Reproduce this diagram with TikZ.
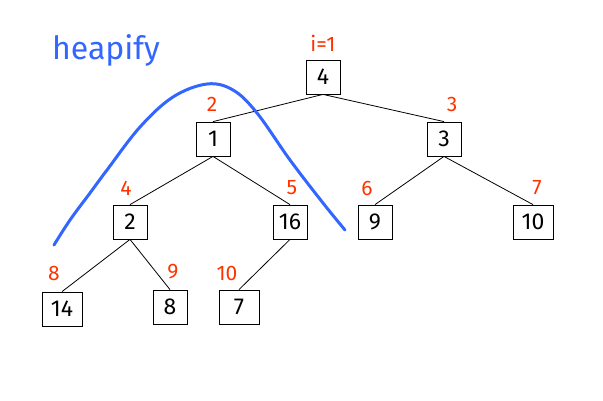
\documentclass[tikz,border=0pt]{standalone}
\usepackage{fontspec}
\setmainfont{Fira Sans}
\usepackage{tikz}
\usetikzlibrary{positioning}
\definecolor{idxred}{RGB}{255,51,0}
\definecolor{heapblue}{RGB}{51,102,255}
\tikzset{x=1pt,y=-1pt,
    key/.style={draw,thick,minimum width=34pt,minimum height=34pt,inner sep=0pt,
        font=\fontsize{23}{26}\selectfont},
    wide/.style={key,minimum width=40pt},
    index/.style={text=idxred,font=\fontsize{21}{24}\selectfont},
    link/.style={draw,line width=0.8pt},
    textnode/.style={}}

\begin{document}
\begin{tikzpicture}
\useasboundingbox (0,0) rectangle (603,400);
\node[key]  (n1)  at (323,77)  {4};
\node[key]  (n2)  at (213,139) {1};
\node[key]  (n3)  at (444,139) {3};
\node[key]  (n4)  at (130,222) {2};
\node[key]  (n5)  at (290,222) {16};
\node[key]  (n6)  at (375,222) {9};
\node[wide] (n7)  at (533,222) {10};
\node[wide] (n8)  at (62,309)  {14};
\node[key]  (n9)  at (170,307) {8};
\node[wide] (n10) at (239,307) {7};

\path[link]
	(n1.south) edge (n2.north)
	(n1.south) edge (n3.north)
	(n2.south) edge (n4.north)
	(n2.south) edge (n5.north)
	(n3.south) edge (n6.north)
	(n3.south) edge (n7.north)
	(n4.south) edge (n8.north)
	(n4.south) edge (n9.north)
	(n5.south) edge (n10.north);

% array positions
\node[index] (i1)  at (323,43)  {i=1};
\node[index] (i2)  at (212,104) {2};
\node[index] (i3)  at (452,104) {3};
\node[index] (i4)  at (126,188) {4};
\node[index] (i5)  at (292,188) {5};
\node[index] (i6)  at (367,188) {6};
\node[index] (i7)  at (537,188) {7};
\node[index] (i8)  at (54,273)  {8};
\node[index] (i9)  at (173,272) {9};
\node[index] (i10) at (227,273) {10};

\node[text=heapblue,font=\fontsize{32}{36}\selectfont] (title) at (106,50) {heapify};
\draw[heapblue,line width=3pt,line cap=round] plot[smooth,tension=0.6] coordinates {
	(54,245) (70,220) (90,193) (107,170) (140,127) (173,97) (207,84)
	(233,90) (257,113) (290,160) (323,203) (345,230)};
\end{tikzpicture}
\end{document}
